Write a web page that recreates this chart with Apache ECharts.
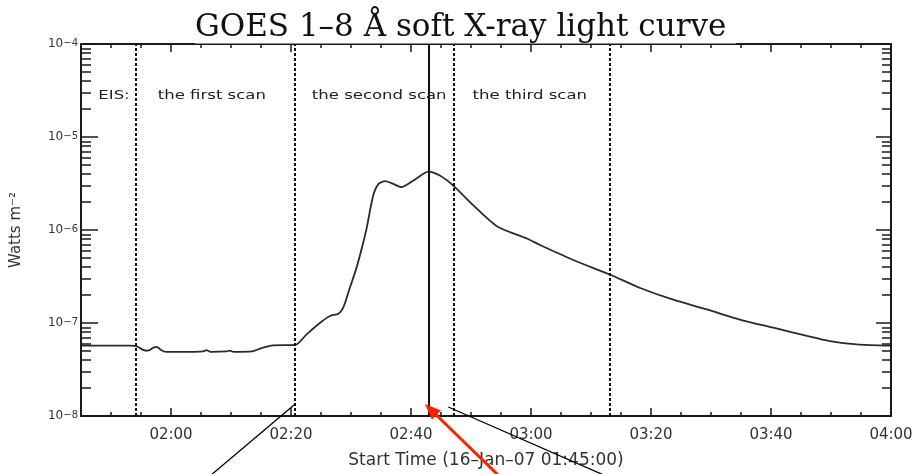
<!DOCTYPE html>
<html>
<head>
<meta charset="utf-8">
<script src="https://cdn.jsdelivr.net/npm/echarts@6/dist/echarts.min.js"></script>
<style>
html,body{margin:0;padding:0;background:#fff;}
#chart{width:918px;height:474px;}
</style>
</head>
<body>
<div id="chart"></div>
<script>
// ---- data (time in minutes since 00:00 UT, 16-Jan-2007; flux in W m^-2) ----
const fluxTime = [105, 113, 114.2, 115.3, 116.2, 117, 117.6, 118.4, 119.2, 123, 125.3, 125.9, 126.6, 129.3, 129.8, 130.4, 133.5, 135, 137, 140.7, 142.6, 144.8, 146.5, 147.9, 148.7, 149.8, 150.9, 151.8, 152.6, 153.7, 154.6, 155.7, 157.05, 158.4, 160.4, 162.9, 164.8, 167.05, 170.4, 174.3, 179.3, 181.5, 187.05, 193.2, 198.2, 203.7, 209.3, 214.8, 220.4, 226, 229.8, 234.3, 240];
const fluxValue = [5.7e-8, 5.7e-8, 5.65e-8, 5.15e-8, 5.05e-8, 5.4e-8, 5.55e-8, 5.1e-8, 4.9e-8, 4.9e-8, 4.95e-8, 5.1e-8, 4.9e-8, 4.95e-8, 5.05e-8, 4.9e-8, 4.95e-8, 5.35e-8, 5.75e-8, 5.8e-8, 7.55e-8, 1.0e-7, 1.19e-7, 1.26e-7, 1.46e-7, 2.38e-7, 3.89e-7, 6.35e-7, 1.04e-6, 2.35e-6, 3.13e-6, 3.35e-6, 3.13e-6, 2.89e-6, 3.4e-6, 4.24e-6, 3.85e-6, 3.0e-6, 1.84e-6, 1.1e-6, 8.1e-7, 6.9e-7, 4.76e-7, 3.3e-7, 2.38e-7, 1.78e-7, 1.4e-7, 1.09e-7, 8.9e-8, 7.26e-8, 6.4e-8, 5.9e-8, 5.7e-8];
const scanBoundaries = [114.1, 140.7, 167.05, 193.2];   // dashed lines
const markerTime = 163;                                 // solid line
const scanLabels = ['EIS:', 'the first scan', 'the second scan', 'the third scan'];
const scanLabelTime = [110.5, 126.8, 154.7, 179.8];
const scanLabelFlux = 2.78e-5;
const xMin = 105, xMax = 240;
const xMajorTicks = [120, 140, 160, 180, 200, 220, 240];
const xMinorTicks = [110, 115, 125, 130, 135, 145, 150, 155, 165, 170, 175, 185, 190, 195, 205, 210, 215, 225, 230, 235];
const yMajorTicks = [1e-8, 1e-7, 1e-6, 1e-5, 1e-4];
const yMinorTicks = [];
for (let d = -8; d < -4; d++) for (let k = 2; k <= 9; k++) yMinorTicks.push(+(k * Math.pow(10, d)).toPrecision(3));

const titleText = 'GOES 1–8 Å soft X-ray light curve';
const xName = 'Start Time (16–Jan–07 01:45:00)';
const yName = 'Watts m⁻²';

const ink = '#1a1a1a';
function fmtTime(v){ const h = Math.floor(v/60), m = Math.round(v%60); return String(h).padStart(2,'0') + ':' + String(m).padStart(2,'0'); }
function fmtPow(v){ const e = Math.round(Math.log10(v)); return '{b|10}{e|−' + Math.abs(e) + '}'; }

function xAxisDef(pos, ticks, len, main){
  return {
    type:'value', position:pos, min:xMin, max:xMax, gridIndex:0,
    axisLine:{show:main, onZero:false, lineStyle:{color:ink, width:2}},
    axisTick:{show:true, inside:true, length:len, customValues:ticks, lineStyle:{color:ink, width:1.5}},
    axisLabel:{show:main && pos==='bottom', customValues:ticks, formatter:fmtTime, margin:12,
      fontFamily:'DejaVu Sans', fontSize:15, color:'#333'},
    splitLine:{show:false},
    name: (main && pos==='bottom') ? xName : '',
    nameLocation:'middle', nameGap:36,
    nameTextStyle:{fontFamily:'DejaVu Sans', fontSize:17, color:'#333'}
  };
}
function yAxisDef(pos, ticks, len, main){
  return {
    type:'log', logBase:10, position:pos, min:1e-8, max:1e-4, gridIndex:0,
    axisLine:{show:main, onZero:false, lineStyle:{color:ink, width:2}},
    axisTick:{show:true, inside:true, length:len, customValues:ticks, lineStyle:{color:ink, width:1.5}},
    axisLabel:{show:main && pos==='left', customValues:ticks, formatter:fmtPow, margin:3,
      color:'#333',
      rich:{
        b:{fontFamily:'DejaVu Sans', fontSize:12, color:'#333', lineHeight:12, verticalAlign:'bottom', padding:[6,0,0,0]},
        e:{fontFamily:'DejaVu Sans', fontSize:10, color:'#333', lineHeight:10, verticalAlign:'top', padding:[0,0,6,0]}
      }},
    splitLine:{show:false},
    name: (main && pos==='left') ? yName : '',
    nameLocation:'middle', nameGap:57, nameRotate:90,
    nameTextStyle:{fontFamily:'DejaVu Sans', fontSize:15, color:'#333'}
  };
}

const chart = echarts.init(document.getElementById('chart'), null, {renderer:'canvas'});
const markData = scanBoundaries.map(t => ({xAxis:t, lineStyle:{type:[3,2], width:2, color:'#111'}}));
markData.push({xAxis:markerTime, lineStyle:{type:'solid', width:2, color:'#111'}});

chart.setOption({
  animation:false,
  backgroundColor:'#fff',
  title:{text:titleText, left:195, top:8, padding:[4,0,0,0], z:20,
    textStyle:{fontFamily:'DejaVu Serif', fontSize:31, fontWeight:'normal', color:'#111'}},
  grid:{left:81, right:27, top:44, bottom:55, containLabel:false},
  xAxis:[xAxisDef('bottom', xMajorTicks, 8, true), xAxisDef('bottom', xMinorTicks, 4, false),
         xAxisDef('top', xMajorTicks, 8, true), xAxisDef('top', xMinorTicks, 4, false)],
  yAxis:[yAxisDef('left', yMajorTicks, 17, true), yAxisDef('left', yMinorTicks, 10, false),
         yAxisDef('right', yMajorTicks, 15, true), yAxisDef('right', yMinorTicks, 9, false)],
  series:[{
    type:'line', xAxisIndex:0, yAxisIndex:0,
    data: fluxTime.map((t,i) => [t, fluxValue[i]]),
    showSymbol:false, smooth:0.25,
    lineStyle:{color:'#2a2a2a', width:1.8},
    markLine:{silent:true, symbol:['none','none'], label:{show:false}, data:markData}
  }]
});

// ---- annotations placed from data coordinates ----
const px = p => chart.convertToPixel({xAxisIndex:0, yAxisIndex:0}, p);
const gfx = [];
const tl = px([xMin, 1e-4]);
gfx.push({type:'rect', z:10, silent:true, shape:{x:195, y:0, width:541, height:tl[1]-0.5}, style:{fill:'#fff'}});
scanLabels.forEach((s,i) => {
  const p = px([scanLabelTime[i], scanLabelFlux]);
  gfx.push({type:'text', x:p[0], y:p[1], scaleX:1.27, z:15,
    style:{text:s, fill:'#222', fontFamily:'DejaVu Sans', fontSize:13, align:'center', verticalAlign:'middle'}});
});
// black pointer lines
const b1 = px([scanBoundaries[1], 1e-8]);
gfx.push({type:'line', z:15, shape:{x1:b1[0], y1:b1[1]-12, x2:b1[0]-90, y2:b1[1]-12+76}, style:{stroke:'#000', lineWidth:1.3}});
const b2 = px([scanBoundaries[2], 1e-8]);
gfx.push({type:'line', z:15, shape:{x1:b2[0]-5, y1:b2[1]-9, x2:b2[0]-5+160, y2:b2[1]-9+70}, style:{stroke:'#000', lineWidth:1.3}});
// red arrow
const m = px([markerTime, 1e-8]);
const T = [m[0]-4, m[1]-12];
const u = [0.717, 0.697], pp = [-0.697, 0.717];
const HL = 16, HW = 6.5;
const B = [T[0]+HL*u[0], T[1]+HL*u[1]];
gfx.push({type:'line', z:15, shape:{x1:B[0]-2*u[0], y1:B[1]-2*u[1], x2:T[0]+120*u[0], y2:T[1]+120*u[1]}, style:{stroke:'#ff2200', lineWidth:3}});
gfx.push({type:'polygon', z:16, shape:{points:[T, [B[0]+HW*pp[0], B[1]+HW*pp[1]], [B[0]-HW*pp[0], B[1]-HW*pp[1]]]}, style:{fill:'#ff2200'}});
chart.setOption({graphic:{elements:gfx}});
</script>
</body>
</html>
